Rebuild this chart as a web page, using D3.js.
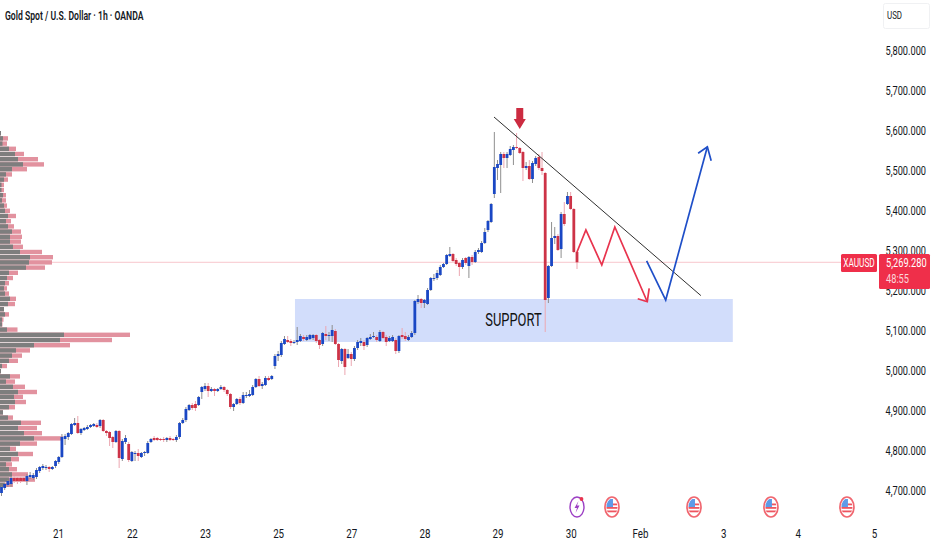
<!DOCTYPE html>
<html>
<head>
<meta charset="utf-8">
<script src="https://cdn.jsdelivr.net/npm/d3@7"></script>
<style>
html,body{margin:0;padding:0;background:#fff;overflow:hidden}
svg{display:block}
text{font-family:Roboto,"Open Sans",sans-serif}
</style>
</head>
<body>
<svg id="chart" width="932" height="550"></svg>
<script>
// ---- candles (hourly bars, indexed left to right) ----
const opens=[4692.5,4705,4712.5,4715,4730,4730,4730,4730,4722.5,4732.5,
4730,4732.5,4747.5,4755,4755,4757.5,4752.5,4760,4770,4782.5,
4827.5,4832.5,4840,4862.5,4867.5,4842.5,4850,4852.5,4857.5,4860,
4862.5,4860,4875,4847.5,4845,4832.5,4820,4847.5,4777.5,4820,
4815,4772.5,4790,4792.5,4782.5,4792.5,4792.5,4820,4830,4830,
4827.5,4827.5,4825,4830,4827.5,4825,4832.5,4867.5,4875,4900,
4912.5,4915,4912.5,4945,4952.5,4960,4947.5,4952.5,4947.5,4952.5,
4957.5,4950,4940,4907.5,4915,4927.5,4917.5,4935,4935,4937.5,
4957.5,4977.5,4960,4962.5,4980,4977.5,5010,5035,5037.5,5065,
5075,5072.5,5067.5,5070,5072.5,5082.5,5075,5077.5,5080,5087.5,
5075,5065,5090,5085,5085,5097.5,5065,5022.5,5052.5,5030,
5040,5027.5,5055,5067.5,5070,5062.5,5077.5,5082.5,5082.5,5072.5,
5095,5082.5,5072.5,5072.5,5075,5047.5,5087.5,5085,5075,5082.5,
5092.5,5170,5177.5,5167.5,5165,5200,5227.5,5230,5237.5,5257.5,
5265,5285,5290,5275,5267.5,5257.5,5280,5260,5282.5,5270,
5295,5295,5317.5,5350,5370,5440,5505,5512.5,5540,5530,
5537.5,5550,5557.5,5555,5545,5505,5510,5477.5,5515,5532.5,
5505,5492.5,5180,5260,5330,5335,5302.5,5390,5415,5435,5402.5,5295];
const closes=[4707.5,4715,4722.5,4730,4722.5,4722.5,4722.5,4722.5,4735,4737.5,
4737.5,4750,4757.5,4760,4757.5,4752.5,4757.5,4772.5,4782.5,4832.5,
4835,4842.5,4865,4867.5,4842.5,4852.5,4855,4857.5,4862.5,4865,
4857.5,4875,4847.5,4842.5,4830,4820,4847.5,4780,4822.5,4830,
4775,4795,4792.5,4785,4792.5,4795,4817.5,4827.5,4825,4825,
4825,4825,4830,4825,4825,4832.5,4867.5,4875,4902.5,4912.5,
4905,4905,4932.5,4957.5,4960,4947.5,4952.5,4947.5,4952.5,4957.5,
4950,4940,4907.5,4915,4927.5,4917.5,4937.5,4937.5,4940,4957.5,
4977.5,4960,4965,4980,4975,4985,5035,5040,5067.5,5077.5,
5070,5067.5,5070,5075,5085,5077.5,5082.5,5087.5,5087.5,5072.5,
5062.5,5092.5,5085,5087.5,5100,5065,5025,5052.5,5007.5,5040,
5027.5,5055,5070,5072.5,5060,5080,5082.5,5085,5075,5095,
5080,5070,5080,5082.5,5047.5,5085,5082.5,5077.5,5082.5,5092.5,
5172.5,5177.5,5167.5,5175,5200,5230,5230,5242.5,5257.5,5265,
5287.5,5290,5272.5,5265,5257.5,5275,5267.5,5282.5,5270,5295,
5300,5317.5,5345,5372.5,5415,5507.5,5515,5540,5530,5540,
5552.5,5557.5,5555,5542.5,5505,5510,5477.5,5517.5,5530,5505,
5497.5,5175,5260,5330,5335,5300,5390,5365,5435,5402.5,5295,5269.28];
const highs=[4710,4717.5,4725,4735,4735,4732.5,4732.5,4732.5,4740,4745,
4742.5,4755,4760,4765,4762.5,4760,4760,4775,4785,4840,
4840,4845,4867.5,4880,4885,4855,4857.5,4862.5,4865,4867.5,
4867.5,4877.5,4877.5,4850,4847.5,4835,4850,4850,4827.5,4837.5,
4820,4797.5,4797.5,4802.5,4795,4797.5,4822.5,4830,4835,4832.5,
4830,4832.5,4832.5,4835,4830,4837.5,4870,4880,4907.5,4915,
4917.5,4922.5,4935,4960,4967.5,4967.5,4957.5,4955,4955,4962.5,
4960,4952.5,4942.5,4917.5,4930,4932.5,4945,4945,4950,4962.5,
4980,4985,4970,4985,4985,4987.5,5040,5047.5,5072.5,5085,
5085,5077.5,5075,5107.5,5090,5087.5,5087.5,5090,5090,5090,
5077.5,5095,5110,5095,5112.5,5102.5,5067.5,5055,5055,5052.5,
5045,5060,5075,5080,5075,5082.5,5090,5095,5087.5,5100,
5097.5,5087.5,5085,5087.5,5080,5087.5,5105,5095,5087.5,5097.5,
5175,5187.5,5180,5177.5,5205,5232.5,5240,5250,5262.5,5267.5,
5290,5307.5,5292.5,5280,5270,5280,5282.5,5285,5287.5,5300,
5305,5322.5,5355,5375,5417.5,5595,5525,5545,5545,5545,
5560,5562.5,5592.5,5557.5,5547.5,5520,5525,5522.5,5535,5540,
5545,5495,5262.5,5370,5357.5,5340,5395,5420,5445,5445,5405,5297.5];
const lows=[4685,4700,4707.5,4707.5,4717.5,4715,4717.5,4720,4712.5,4727.5,
4725,4727.5,4742.5,4750,4750,4745,4750,4755,4765,4780,
4812.5,4825,4837.5,4860,4840,4837.5,4847.5,4850,4855,4857.5,
4855,4855,4845,4835,4810,4805,4817.5,4755,4772.5,4815,
4770,4770,4772.5,4772.5,4780,4785,4790,4817.5,4822.5,4822.5,
4822.5,4820,4820,4822.5,4822.5,4820,4827.5,4865,4870,4897.5,
4900,4897.5,4910,4927.5,4947.5,4932.5,4945,4935,4945,4950,
4945,4935,4902.5,4897.5,4912.5,4912.5,4915,4930,4932.5,4935,
4955,4957.5,4952.5,4960,4972.5,4975,5002.5,5022.5,5032.5,5062.5,
5067.5,5060,5065,5062.5,5070,5072.5,5072.5,5075,5075,5067.5,
5052.5,5060,5075,5072.5,5070,5062.5,5007.5,5015,4987.5,5027.5,
5010,5022.5,5050,5060,5050,5057.5,5075,5080,5070,5070,
5077.5,5060,5070,5070,5040,5042.5,5077.5,5072.5,5072.5,5080,
5087.5,5165,5155,5155,5162.5,5197.5,5222.5,5225,5235,5255,
5262.5,5282.5,5270,5260,5235,5252.5,5262.5,5230,5262.5,5267.5,
5290,5292.5,5315,5345,5367.5,5430,5475,5442.5,5505,5505,
5535,5512.5,5552.5,5540,5472.5,5500,5475,5467.5,5510,5500,
5487.5,5095,5167.5,5257.5,5315,5297.5,5280,5360,5412.5,5400,5292.5,5252.5];

// ---- volume profile ----
const profileLevels=[5592,5579,5566,5553,5540,5527,5514,5502,5489,5476,5463,5450,5437,5424,5411,5398,5385,5372,5359,5346,5333,5321,5308,5295,5282,5269,5256,5243,5230,5217,5204,5191,5178,5165,5152,5139,5126,5114,5101,5088,5075,5062,5049,5036,5023,5010,4997,4984,4971,4958,4945,4933,4920,4907,4894,4881,4868,4855,4842,4829,4816,4803,4790,4777,4764,4752,4739,4726,4713];
const profileBuy=[1,3,2.5,9,15,18,23,12,6,4,1.5,1.5,3,2,4,5,8,6,8,12,10,10,13,20,30,29,26,9,7,5,4,5,10,8,4,5,2,2,7,64,60,34,16,12,9,2,1,10,6,13,18,14,15,9,3,8,21,18,24,34,20,10,18,11,6,9,12,9,5];
const profileTotal=[1,8,7,16,24,38,44,27,12,8,4,4,6,6,7,10,16,11,14,21,22,21,23,42,53,52,45,18,13,9,7,9,16,15,4,9,3.5,2.5,17.5,130,112,70,30,22,18,7,1,20,15,25,37,23,26,15,3,13,41,37,42,63,37,16,33,19,12,17,28,35,13];

// ---- axes ----
const priceTicks=[5800,5700,5600,5500,5400,5300,5200,5100,5000,4900,4800,4700];
const dateTickBars=[17.8,41,64,87,110,133,156,179,200.8,227,250.4,274.4];
const dateTickLabels=["21","22","23","25","27","28","29","30","Feb","3","4","5"];

// ---- drawings, in bar index / price units ----
const lastPrice=5269.28;
const supportBars=[92.3,230], supportPrices=[5070,5177.5];
const trendBars=[154.9,219.96], trendPrices=[5632.5,5186];
const redPathBars=[181,183.8,188.8,192.9,203.1], redPathPrices=[5295,5350,5262.5,5357.5,5170.7];
const redHeadBars=[200.1,203.1,203.7], redHeadPrices=[5178,5170.7,5204];
const bluePathBars=[202.9,208.9,222], bluePathPrices=[5273,5175,5558];
const blueHeadBars=[219.1,222,223.2], blueHeadPrices=[5542,5558,5523];
const downArrowBars=[161.9,164.1,164.1,164.9,163,161.1,161.9], downArrowPrices=[5655,5655,5627.5,5627.5,5602.5,5627.5,5627.5];
const flagBars=[192,217.8,242,265.9];
const boltBar=181;

const COL={blue:"#1a47c4",red:"#cd3347",grayW:"#8f8f8f",redW:"#eca7b1",profG:"#7e7e7e",profR:"#e2929f",txt:"#131722"};
const x=d3.scaleLinear().domain([0,181]).range([1.5,577]);
const y=d3.scaleLinear().domain([4700,5800]).range([490,50]);
const vol=d3.scaleLinear().domain([0,130]).range([0,130]);
const svg=d3.select("#chart");
const line=d3.line().x(d=>x(d[0])).y(d=>y(d[1]));
// narrows a text about its own anchor point
const condense=(sel,f)=>sel.each(function(){const t=d3.select(this);const X=+t.attr("x")||0;t.attr("transform",`translate(${X},0) scale(${f},1) translate(${-X},0)`);});

// support zone
svg.append("rect").attr("x",x(supportBars[0])).attr("width",x(supportBars[1])-x(supportBars[0]))
  .attr("y",y(supportPrices[1])).attr("height",y(supportPrices[0])-y(supportPrices[1])).attr("fill","#d2ddfb");

// last price line
svg.append("line").attr("x1",0).attr("x2",841).attr("y1",y(lastPrice)).attr("y2",y(lastPrice)).attr("stroke","#f8c6cc").attr("stroke-width",1);

// profile
const rowH=Math.abs(y(profileLevels[1])-y(profileLevels[0]))-0.8;
const pg=svg.append("g");
pg.selectAll("rect.t").data(profileLevels).join("rect").attr("class","t").attr("x",0)
  .attr("y",d=>y(d)-rowH/2).attr("height",rowH).attr("width",(d,i)=>vol(profileTotal[i])).attr("fill",COL.profR);
pg.selectAll("rect.b").data(profileLevels).join("rect").attr("class","b").attr("x",0)
  .attr("y",d=>y(d)-rowH/2).attr("height",rowH).attr("width",(d,i)=>vol(profileBuy[i])).attr("fill",COL.profG);

// candles
const idx=d3.range(opens.length);
const up=i=>closes[i]>=opens[i];
const cg=svg.append("g");
cg.selectAll("line").data(idx).join("line")
  .attr("x1",i=>x(i)).attr("x2",i=>x(i)).attr("y1",i=>y(highs[i])).attr("y2",i=>y(lows[i]))
  .attr("stroke",i=>up(i)?COL.grayW:COL.redW).attr("stroke-width",1);
cg.selectAll("rect").data(idx).join("rect")
  .attr("x",i=>x(i)-1.4).attr("width",2.8)
  .attr("y",i=>y(Math.max(opens[i],closes[i])))
  .attr("height",i=>Math.max(1,Math.abs(y(opens[i])-y(closes[i]))))
  .attr("fill",i=>up(i)?COL.blue:COL.red);

// trendline and paths
const zip=(a,b)=>a.map((v,i)=>[v,b[i]]);
svg.append("path").attr("d",line(zip(trendBars,trendPrices))).attr("fill","none").attr("stroke","#2f2f2f").attr("stroke-width",1);
[[redPathBars,redPathPrices,"#e8344e"],[redHeadBars,redHeadPrices,"#e8344e"],[bluePathBars,bluePathPrices,"#1f4fc8"],[blueHeadBars,blueHeadPrices,"#1f4fc8"]]
 .forEach(([a,b,c])=>svg.append("path").attr("d",line(zip(a,b))).attr("fill","none").attr("stroke",c).attr("stroke-width",1.7).attr("stroke-linejoin","miter"));
svg.append("path").attr("d",line(zip(downArrowBars,downArrowPrices))+"Z").attr("fill","#cc2b40");

// support label
svg.append("text").attr("x",x(161)).attr("y",y(5127.5)).attr("dy","0.36em").attr("text-anchor","middle")
  .attr("font-size",19).attr("fill","#111").text("SUPPORT").call(condense,0.68);

// y axis
const yAxis=svg.append("g").attr("transform","translate(926,0)")
  .call(d3.axisLeft(y).tickValues(priceTicks).tickSize(0).tickPadding(0).tickFormat(d=>d3.format(",")(d)+".000"));
yAxis.select(".domain").remove();
yAxis.selectAll("text").attr("font-size",13).attr("font-family","Roboto").attr("fill",COL.txt).call(condense,0.71);

// x axis
const xAxis=svg.append("g").attr("transform","translate(0,529)")
  .call(d3.axisBottom(x).tickValues(dateTickBars).tickSize(0).tickPadding(0).tickFormat((d,i)=>dateTickLabels[i]));
xAxis.select(".domain").remove();
xAxis.selectAll("text").attr("font-size",13).attr("font-family","Roboto").attr("fill",COL.txt).call(condense,0.75);

// title
svg.append("text").attr("x",5).attr("y",20).attr("font-size",12).attr("font-weight",600).attr("fill",COL.txt)
  .text("Gold Spot / U.S. Dollar · 1h · OANDA").call(condense,0.72);

// USD box
svg.append("rect").attr("x",883.5).attr("y",3.5).attr("width",46).attr("height",25).attr("rx",2).attr("fill","#fff").attr("stroke","#f0f1f3");
svg.append("text").attr("x",887).attr("y",19).attr("font-size",11).attr("fill",COL.txt).text("USD").call(condense,0.72);

// price tags
svg.append("rect").attr("x",841).attr("y",254).attr("width",36).attr("height",18).attr("rx",1.5).attr("fill","#ef2f4a");
svg.append("rect").attr("x",879).attr("y",254).attr("width",51).attr("height",35).attr("rx",1.5).attr("fill","#ef2f4a");
svg.append("text").attr("x",859).attr("y",267.5).attr("text-anchor","middle").attr("font-size",12.5).attr("fill","#fff").text("XAUUSD").call(condense,0.66);
svg.append("text").attr("x",886).attr("y",267.5).attr("font-size",12.5).attr("fill","#fff").text(d3.format(",.3f")(lastPrice)).call(condense,0.74);
svg.append("text").attr("x",886).attr("y",283.5).attr("font-size",12.5).attr("fill","#fbd5da").text("48:55").call(condense,0.74);

// events row
const evY=507, rx=7, ry=10;
const defs=svg.append("defs");
defs.append("clipPath").attr("id","flagClip").append("ellipse").attr("cx",0).attr("cy",0).attr("rx",rx-1.5).attr("ry",ry-1.8);
const flags=svg.selectAll("g.flag").data(flagBars).join("g").attr("class","flag").attr("transform",d=>`translate(${x(d)},${evY})`);
flags.append("g").attr("clip-path","url(#flagClip)").each(function(){
  const g=d3.select(this);
  g.append("rect").attr("x",-8).attr("y",-10).attr("width",16).attr("height",20).attr("fill","#fff");
  [-3.5,0,3.5].forEach(t=>g.append("rect").attr("x",-8).attr("y",t).attr("width",16).attr("height",1.8).attr("fill","#ee5560"));
  g.append("rect").attr("x",-8).attr("y",-8).attr("width",9).attr("height",8).attr("fill","#5d9be8");
});
flags.append("ellipse").attr("rx",rx).attr("ry",ry).attr("fill","none").attr("stroke","#f0666f").attr("stroke-width",1.7);
const bolt=svg.append("g").attr("transform",`translate(${x(boltBar)},${evY})`);
bolt.append("ellipse").attr("rx",rx).attr("ry",ry).attr("fill","#fff").attr("stroke","#9c3fc4").attr("stroke-width",1.4);
bolt.append("path").attr("d","M1.5,-6 L-2.5,1 L0,1 L-1.5,6 L2.5,-1.5 L0,-1.5 Z").attr("fill","#9c3fc4");
bolt.append("circle").attr("cx",4.5).attr("cy",-8).attr("r",1.9).attr("fill","#e8344e");
</script>
</body>
</html>
